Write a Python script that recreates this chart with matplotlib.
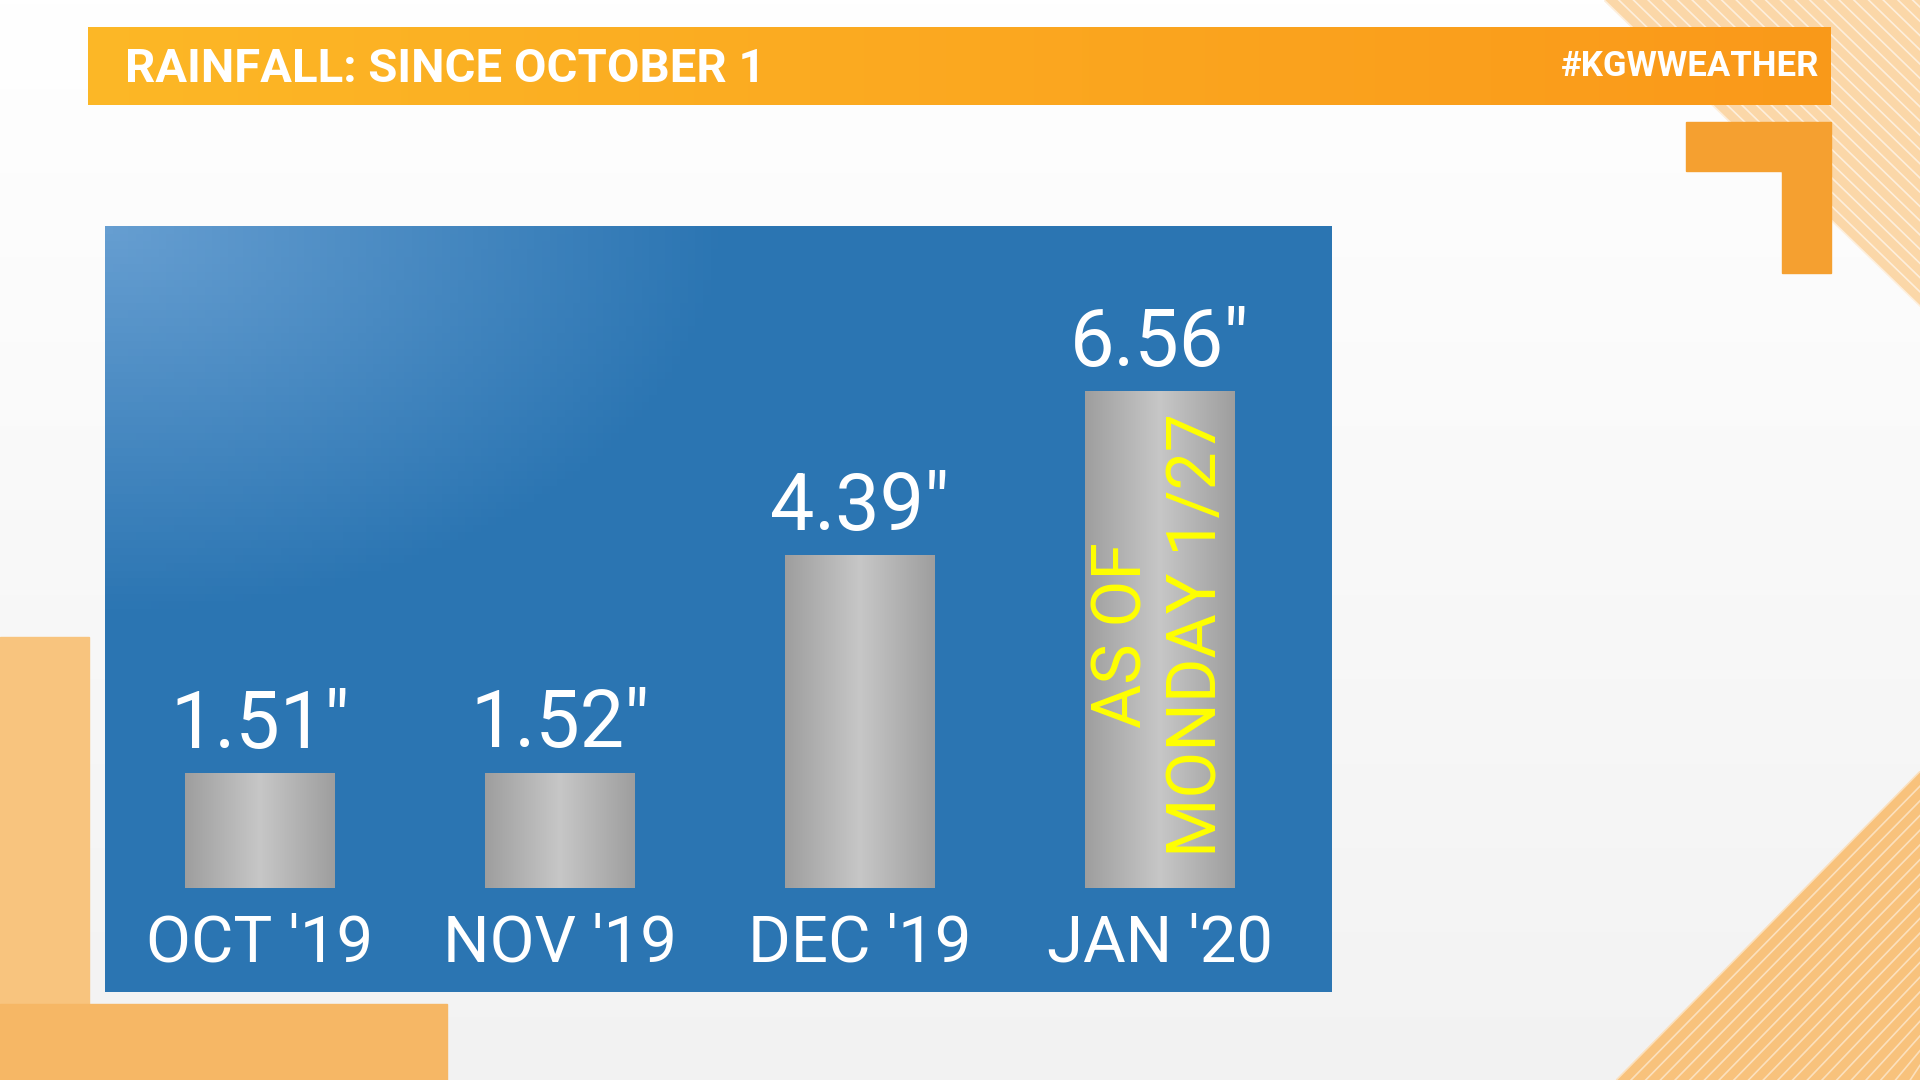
import matplotlib
matplotlib.use("Agg")
import matplotlib.pyplot as plt
import numpy as np
from matplotlib.patches import Rectangle, Polygon

categories = ["OCT '19", "NOV '19", "DEC '19", "JAN '20"]
values = [1.51, 1.52, 4.39, 6.56]
value_labels = ['1.51"', '1.52"', '4.39"', '6.56"']
title = "RAINFALL: SINCE OCTOBER 1"
tag = "#KGWWEATHER"
note = "AS OF\nMONDAY 1/27"

plt.rcParams['font.family'] = ['Roboto', 'DejaVu Sans']
W, H = 1568, 882
fig = plt.figure(figsize=(19.2, 10.8), dpi=100)
bg = fig.add_axes([0, 0, 1, 1])
bg.set_xlim(0, W); bg.set_ylim(H, 0); bg.axis('off')
g = np.linspace(0, 1, 256)[:, None]
bg.imshow(np.dstack([1 - 0.05 * g] * 3), extent=[0, W, H, 0], aspect='auto', zorder=0)
bg.add_patch(Polygon([[1310, 0], [W, 0], [W, 250]], color='#fbd7a8', zorder=1))
for k in range(0, 260, 12):
    bg.plot([1310 + k, W], [0, 250 - k * 250 / 258], color='white', lw=1.2, alpha=0.6, zorder=1)
bg.add_patch(Polygon([[1320, H], [W, 630], [W, H]], color='#f8c27c', zorder=1))
for k in range(0, 250, 12):
    bg.plot([1320 + k, W], [H, 630 + k], color='white', lw=1.2, alpha=0.5, zorder=1)
bg.add_patch(Rectangle((0, 520), 73, H - 520, color='#f8c47e', zorder=1))
bg.add_patch(Rectangle((0, 820), 365, H - 820, color='#f6b765', zorder=1))
bg.add_patch(Polygon([[1377, 100], [1495, 100], [1495, 223], [1455, 223], [1455, 140], [1377, 140]],
                     color='#f5a030', zorder=1))
hg = np.linspace(0, 1, 256)[None, :]
c1 = np.array([0.99, 0.72, 0.15]); c2 = np.array([0.98, 0.60, 0.10])
bg.imshow(c1 + (c2 - c1) * hg[..., None], extent=[72, 1495, 86, 23], aspect='auto', zorder=2)
bg.text(102, 56, title, color='white', fontsize=34, fontweight='bold', va='center', zorder=3)
bg.text(1486, 54, tag, color='white', fontsize=25, fontweight='bold', va='center', ha='right', zorder=3)
yy, xx = np.mgrid[0:100, 0:160]
d = np.clip(1 - np.sqrt((xx / 160) ** 2 + (yy / 100) ** 2) / 0.5, 0, 1)
base = np.array([0.17, 0.46, 0.70]); light = np.array([0.40, 0.62, 0.82])
bg.imshow(base + (light - base) * d[..., None], extent=[86, 1088, 810, 185], aspect='auto', zorder=2)

x0, x1, yb, yt = 86, 1088, 725, 319
ax = fig.add_axes([x0 / W, 1 - yb / H, (x1 - x0) / W, (yb - yt) / H])
ax.patch.set_alpha(0)
ax.axis('off')
xs = np.arange(len(values))
bars = ax.bar(xs, values, width=0.5, color='#b0b0b0', zorder=2)
grad = 1 - np.abs(np.linspace(-1, 1, 200))
img = np.dstack([0.62 + 0.16 * grad] * 3).repeat(2, axis=0)
for b in bars:
    im = ax.imshow(img, extent=[b.get_x(), b.get_x() + b.get_width(), 0, b.get_height()],
                   aspect='auto', zorder=3)
    im.set_clip_path(b)
ax.set_xlim(-0.515, 3.575)
ax.set_ylim(0, max(values))
for x, v, lab, cat in zip(xs, values, value_labels, categories):
    ax.text(x, v + 0.12, lab, ha='center', va='bottom', color='white', fontsize=57, zorder=4)
    ax.text(x, -0.32, cat, ha='center', va='top', color='white', fontsize=47, zorder=4, clip_on=False)
ax.text(3, values[3] / 2 + 0.05, note, rotation=90, ha='center', va='center', color='#ffff00',
        fontsize=49, linespacing=1.15, zorder=4)
fig.savefig('out.png', dpi=100)
